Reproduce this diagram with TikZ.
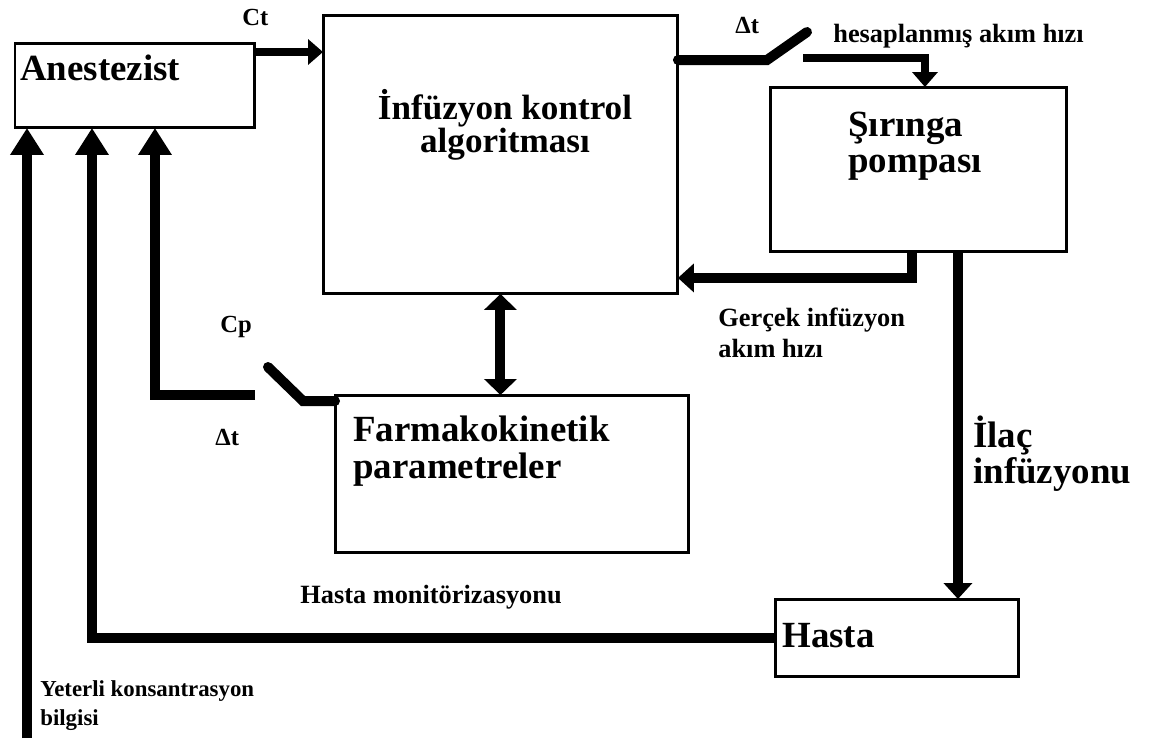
\documentclass[tikz,border=0pt]{standalone}
\usepackage{fontspec}
\setmainfont{Liberation Serif}
\usetikzlibrary{arrows.meta}

\def\wirewidth{0.2cm}
\def\boxline{0.06cm}

\begin{document}
\begin{tikzpicture}[x=0.02cm, y=-0.02cm,
    block/.style={draw, line width=\boxline, anchor=north west, outer sep=0pt, inner sep=0pt},
    big/.style={font=\fontsize{21}{19}\selectfont\bfseries, inner sep=0pt, anchor=base west, align=left},
    small/.style={font=\fontsize{15}{17}\selectfont\bfseries, inner sep=0pt, anchor=base west, align=left},
    flow/.style={line width=\wirewidth, -{Triangle[width=0.56cm,length=0.32cm]}},
    thinflow/.style={line width=0.15cm, -{Triangle[width=0.5cm,length=0.3cm]}},
    upflow/.style={line width=\wirewidth, -{Triangle[width=0.64cm,length=0.54cm]}},
    swline/.style={line width=\wirewidth, line cap=round}
    ]
    \useasboundingbox (0,0) rectangle (1154,738);

    % Define blocks
    \node[block, minimum width=4.8cm, minimum height=1.7cm] (anest) at (15,43) {};
    \node[block, minimum width=7.1cm, minimum height=5.58cm] (algo) at (323,15) {};
    \node[block, minimum width=5.94cm, minimum height=3.3cm] (pump) at (770,87) {};
    \node[block, minimum width=7.08cm, minimum height=3.16cm] (pk) at (335,395) {};
    \node[block, minimum width=4.88cm, minimum height=1.56cm] (patient) at (775,599) {};

    % Block texts (multi-line nodes sit on their last baseline)
    \node[big] (anesttxt) at (20,80) {Anestezist};
    \node[big, anchor=base, align=center, font=\fontsize{20}{18.5}\selectfont\bfseries] (algotxt) at (505,152) {İnfüzyon kontrol\\algoritması};
    \node[big, font=\fontsize{21}{20}\selectfont\bfseries] (pumptxt) at (848,172) {Şırınga\\pompası};
    \node[big, font=\fontsize{21}{20.5}\selectfont\bfseries] (pktxt) at (353,478) {Farmakokinetik\\parametreler};
    \node[big] (patienttxt) at (782,647) {Hasta};

    % Labels
    \node[small, font=\fontsize{14}{16}\selectfont\bfseries] (ct) at (242,25) {Ct};
    \node[small, font=\fontsize{14}{16}\selectfont\bfseries] (dtA) at (735,33) {Δt};
    \node[small] (rate) at (833,42) {hesaplanmış akım hızı};
    \node[small, font=\fontsize{15}{17.5}\selectfont\bfseries] (realrate) at (718,357) {Gerçek infüzyon\\akım hızı};
    \node[small, font=\fontsize{14}{16}\selectfont\bfseries] (cp) at (220,332) {Cp};
    \node[small, font=\fontsize{14}{16}\selectfont\bfseries] (dtB) at (215,445) {Δt};
    \node[big, font=\fontsize{21}{17.5}\selectfont\bfseries] (drugtxt) at (973,483) {İlaç\\infüzyonu};
    \node[small] (monitor) at (300,603) {Hasta monitörizasyonu};
    \node[small, font=\fontsize{13}{16.5}\selectfont\bfseries] (info) at (40,725) {Yeterli konsantrasyon\\bilgisi};

    % Switch points
    \coordinate (ctout) at ([yshift=-0.18cm]anest.north east);
    \coordinate (swA) at (767,60);
    \coordinate (swAtip) at (807,32);
    \coordinate (swAout) at (803,58);
    \coordinate (swB) at (303,401);
    \coordinate (swBtip) at (268,367);
    \coordinate (swBout) at (255,395);
    \coordinate (drug) at ([xshift=0.79cm]pump.south);
    \coordinate (bottom) at (27,738);

    % Define edges
    \draw[thinflow] (ctout) -- (ctout -| algo.west);
    \draw[swline] (swA -| algo.east) -- (swA) -- (swAtip);
    \draw[thinflow] (swAout) -| ([xshift=0.13cm]pump.north);
    \draw[flow] ([xshift=-0.13cm]pump.south) |- ([yshift=0.32cm]algo.south east);
    \draw[flow] (drug) -- (drug |- patient.north);
    \draw[line width=\wirewidth, {Triangle[width=0.64cm,length=0.32cm]}-{Triangle[width=0.64cm,length=0.32cm]}] (algo.south) -- (algo.south |- pk.north);
    \draw[swline] (swB -| pk.west) -- (swB) -- (swBtip);
    \draw[upflow] (swBout) -| ([xshift=0.4cm]anest.south);
    \draw[upflow] (patient.west) -| ([xshift=-0.86cm]anest.south);
    \draw[upflow] (bottom) -- (bottom |- anest.south);
\end{tikzpicture}
\end{document}
